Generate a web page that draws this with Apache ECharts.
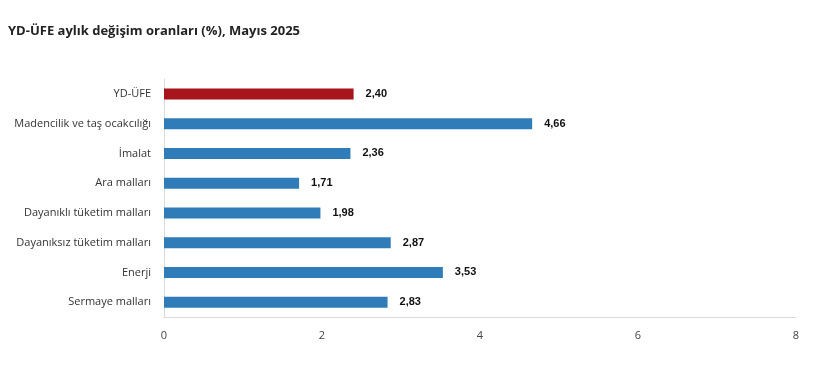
<!DOCTYPE html>
<html><head><meta charset="utf-8">
<script src="https://cdn.jsdelivr.net/npm/echarts@6/dist/echarts.min.js"></script>
<style>html,body{margin:0;padding:0;background:#fff}#c{width:820px;height:375px}</style>
</head><body><div id="c"></div>
<script>
const titleText = "YD-ÜFE aylık değişim oranları (%), Mayıs 2025";
const categories = ["YD-ÜFE","Madencilik ve taş ocakcılığı","İmalat","Ara malları","Dayanıklı tüketim malları","Dayanıksız tüketim malları","Enerji","Sermaye malları"];
const values = [2.40, 4.66, 2.36, 1.71, 1.98, 2.87, 3.53, 2.83];
const highlight = [true, false, false, false, false, false, false, false];
const xTicks = [0, 2, 4, 6, 8];

const chart = echarts.init(document.getElementById('c'));
chart.setOption({
  animation: false,
  title: {text: titleText, left: 3, top: 20,
    textStyle: {fontFamily: "Open Sans", fontWeight: "bold", fontSize: 13, color: "#222"}},
  grid: {left: 164, right: 24, top: 79, height: 238, containLabel: false},
  xAxis: {type: 'value', min: xTicks[0], max: xTicks[xTicks.length-1], interval: 2,
    axisLine: {show: true, lineStyle: {color: '#d9d9d9'}}, axisTick: {show: false},
    splitLine: {show: false},
    axisLabel: {margin: 13, color: '#444', fontFamily: "Open Sans", fontSize: 11}},
  yAxis: {type: 'category', inverse: true, data: categories,
    axisLine: {show: true, lineStyle: {color: '#d9d9d9'}}, axisTick: {show: false},
    axisLabel: {margin: 13, color: '#333', fontFamily: "Open Sans", fontSize: 11}},
  series: [{type: 'bar', barWidth: 11,
    data: values.map((v, i) => ({value: v, itemStyle: {color: highlight[i] ? '#A8141B' : '#2F7CB9'}})),
    label: {show: true, position: 'right', distance: 12, color: '#111', fontWeight: 'bold',
      fontFamily: "Liberation Sans", fontSize: 11,
      formatter: p => p.value.toFixed(2).replace('.', ',')}}]
});
</script></body></html>
